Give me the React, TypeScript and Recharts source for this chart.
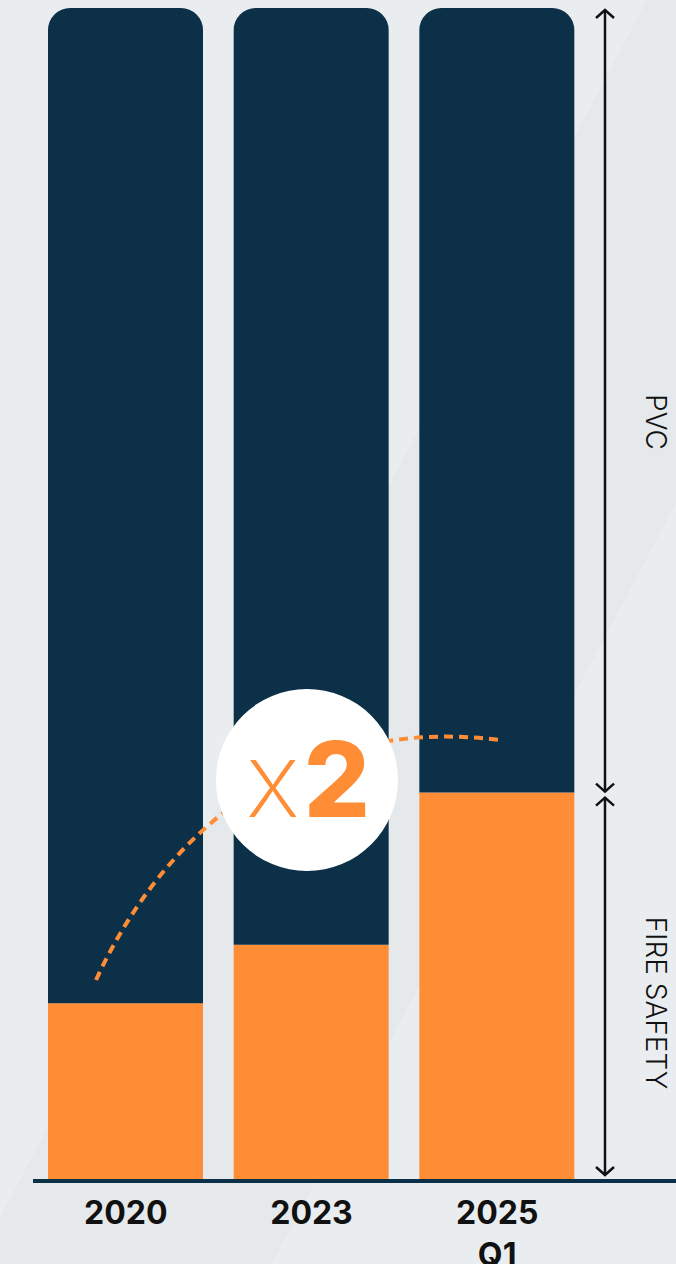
import { BarChart, Bar, XAxis, YAxis } from 'recharts';

const categories = ['2020', '2023', '2025\nQ1'];
const fireSafety = [15, 20, 33];
const pvc = [85, 80, 67];

const NAVY = '#0d3049';
const ORANGE = '#ff8d35';
const INK = '#111111';

const W = 676;
const H = 1264;
const TOP = 8;
const BOTTOM = 1179;

const data = categories.map((name, i) => ({ name, fire: fireSafety[i], pvc: pvc[i] }));

// same linear mapping as the hidden y axis (0..100 over the plot height)
const yOf = (v: number) => BOTTOM - (v / 100) * (BOTTOM - TOP);

function YearTick({ x, y, payload }: any) {
  const lines = String(payload.value).split('\n');
  return (
    <text x={x} y={y + 45} textAnchor="middle" fontFamily="Inter" fontWeight={700} fontSize={32} fill={INK}>
      {lines.map((l, i) => (
        <tspan key={l} x={x} dy={i === 0 ? 0 : 42}>{l}</tspan>
      ))}
    </text>
  );
}

function Chevron({ x, y, dir }: { x: number; y: number; dir: 'up' | 'down' }) {
  const s = dir === 'up' ? 1 : -1;
  return (
    <polyline
      points={`${x - 9},${y + 8 * s} ${x},${y} ${x + 9},${y + 8 * s}`}
      fill="none" stroke={INK} strokeWidth={2.5}
    />
  );
}

// overlay drawn above the bars: dimension arrows, side labels, x2 badge
function Annotations() {
  const ax = 605;
  const mid = yOf(fireSafety[2]);
  return (
    <svg width={W} height={H} style={{ position: 'absolute', top: 0, left: 0, pointerEvents: 'none' }}>
      <line x1={ax} x2={ax} y1={TOP + 2} y2={mid - 1} stroke={INK} strokeWidth={2.5} />
      <line x1={ax} x2={ax} y1={mid + 5} y2={BOTTOM - 4} stroke={INK} strokeWidth={2.5} />
      <Chevron x={ax} y={TOP + 2} dir="up" />
      <Chevron x={ax} y={mid - 1} dir="down" />
      <Chevron x={ax} y={mid + 5} dir="up" />
      <Chevron x={ax} y={BOTTOM - 4} dir="down" />
      <text x={656} y={422} transform="rotate(90 656 422)" textAnchor="middle" dominantBaseline="central"
        fontFamily="Inter" fontWeight={300} fontSize={28} fill={INK}>PVC</text>
      <text x={656} y={1003} transform="rotate(90 656 1003)" textAnchor="middle" dominantBaseline="central"
        fontFamily="Inter" fontWeight={300} fontSize={28} fill={INK}>FIRE SAFETY</text>

      <path d="M96,980 C165,830 300,715 500,740" fill="none" stroke={ORANGE} strokeWidth={4} strokeDasharray="9 6" />
      <circle cx={307} cy={780} r={91} fill="#ffffff" />
      <text x={308} y={817} textAnchor="middle" fontFamily="Inter" fontSize={104} fill={ORANGE}>
        <tspan fontWeight={200}>x</tspan>
        <tspan fontWeight={800} dx={4}>2</tspan>
      </text>
    </svg>
  );
}

export default function App() {
  return (
    <div
      style={{
        position: 'absolute', top: 0, left: 0, width: W, height: H, overflow: 'hidden',
        background: 'linear-gradient(118deg, #eaedf0 0%, #eaedf0 48%, #e6e9ec 48%, #e6e9ec 70%, #eaedf0 70%)',
      }}
    >
      <BarChart width={W} height={H} data={data} margin={{ top: TOP, right: 0, left: 33, bottom: 0 }}>
        <XAxis
          dataKey="name"
          height={H - BOTTOM}
          padding={{ left: 0, right: 86 }}
          tickLine={false}
          tickSize={0}
          tickMargin={0}
          interval={0}
          axisLine={{ stroke: NAVY, strokeWidth: 4, transform: 'translate(0 2)' }}
          tick={<YearTick />}
        />
        <YAxis hide domain={[0, 100]} />
        <Bar dataKey="fire" stackId="a" fill={ORANGE} barSize={155} isAnimationActive={false} />
        <Bar dataKey="pvc" stackId="a" fill={NAVY} barSize={155} radius={[22, 22, 0, 0]} isAnimationActive={false} />
      </BarChart>
      <Annotations />
    </div>
  );
}
